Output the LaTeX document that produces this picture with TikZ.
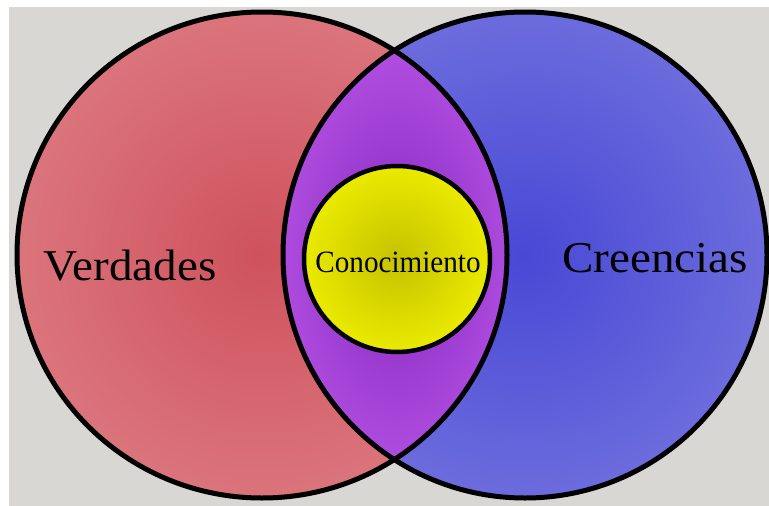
\documentclass[tikz,border=0pt]{standalone}
\usepackage{fontspec}
\setmainfont{Liberation Serif}
\definecolor{bggray}{HTML}{D8D7D4}
\definecolor{redout}{HTML}{DB747C}
\definecolor{redin}{HTML}{CE525D}
\definecolor{blueout}{HTML}{6C6CDD}
\definecolor{bluein}{HTML}{4848D6}
\definecolor{purpout}{HTML}{B24FE2}
\definecolor{purpin}{HTML}{8628BE}
\definecolor{yelout}{HTML}{EAEA00}
\definecolor{yelin}{HTML}{C6C200}
\tikzset{
  ring/.style={draw=black, line width=5pt},
  inner ring/.style={draw=black, line width=4.5pt},
  label big/.style={font=\fontsize{44}{50}\selectfont, text=black, xscale=1.07, inner sep=0pt},
  label small/.style={font=\fontsize{31}{36}\selectfont, text=black, xscale=0.94, inner sep=0pt}
}
\begin{document}
\begin{tikzpicture}[x=1pt,y=-1pt]
  % canvas with a thin white margin on top and left
  \fill[white] (0,0) rectangle (769,506);
  \fill[bggray] (9,7) rectangle (769,506);
  \useasboundingbox (0,0) rectangle (769,506);

  % the two sets
  \shade[inner color=redin, outer color=redout]
    (262,255) ellipse [x radius=245pt, y radius=243pt];
  \shade[inner color=bluein, outer color=blueout]
    (525,255) ellipse [x radius=242pt, y radius=243pt];

  % overlap of the two sets
  \begin{scope}
    \clip (262,255) ellipse [x radius=245pt, y radius=243pt];
    \clip (525,255) ellipse [x radius=242pt, y radius=243pt];
    \shade[inner color=purpin, outer color=purpout]
      (397,259) ellipse [x radius=125pt, y radius=215pt];
  \end{scope}

  % knowledge
  \shade[inner color=yelin, outer color=yelout]
    (397,259) circle [radius=93pt];

  % outlines
  \draw[ring] (262,255) ellipse [x radius=245pt, y radius=243pt];
  \draw[ring] (525,255) ellipse [x radius=242pt, y radius=243pt];
  \draw[inner ring] (397,259) circle [radius=93pt];

  % labels
  \node[label big, anchor=base] (verdades) at (130,280) {Verdades};
  \node[label big, anchor=base] (creencias) at (655,272) {Creencias};
  \node[label small, anchor=base] (conocimiento) at (398,272) {Conocimiento};
\end{tikzpicture}
\end{document}
